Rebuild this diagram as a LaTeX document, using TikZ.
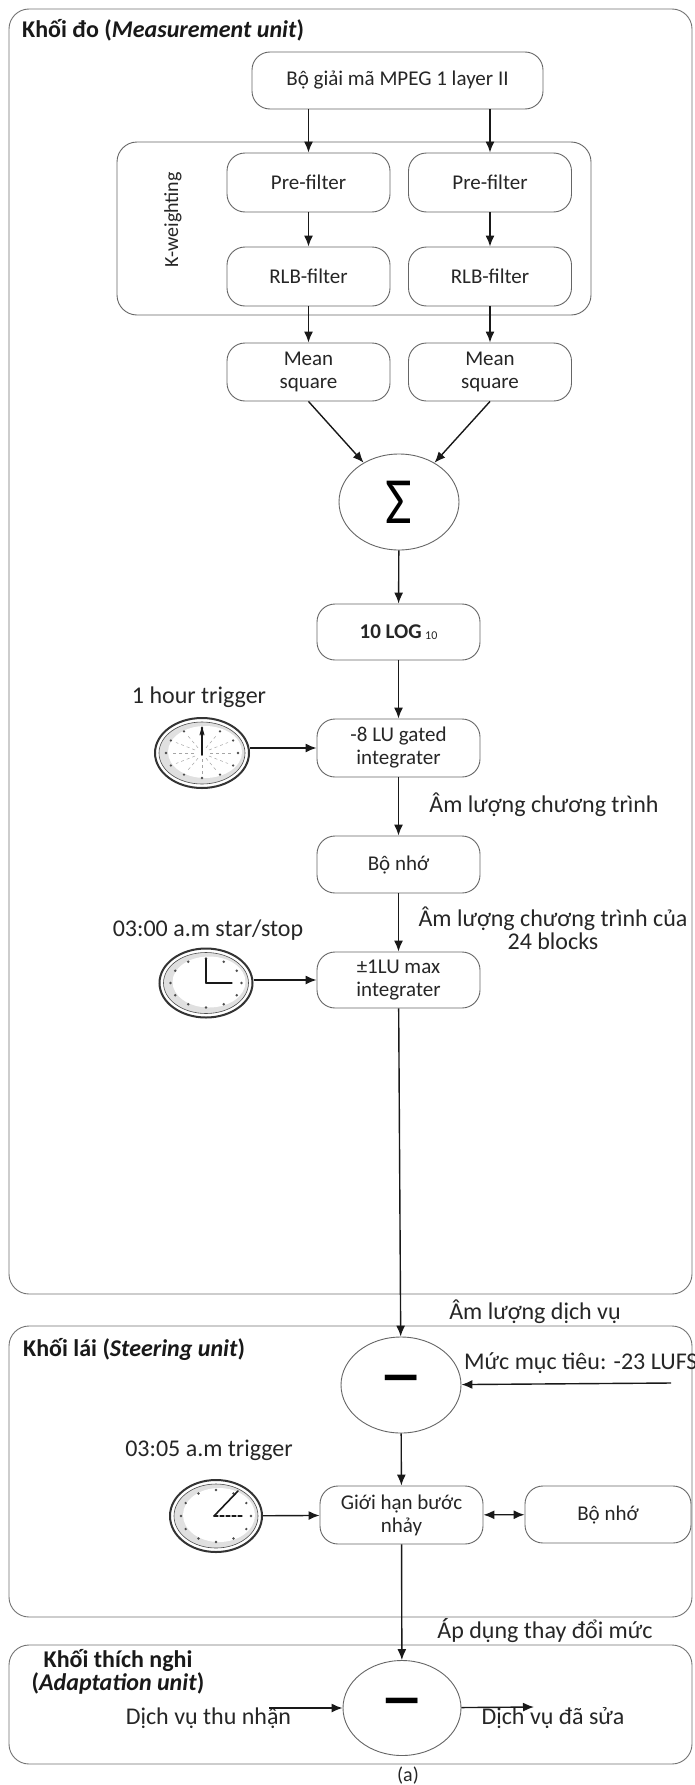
\documentclass[tikz,border=0pt]{standalone}
\usepackage{fontspec}
\setmainfont{Carlito}
\usetikzlibrary{arrows.meta,shapes.geometric}
\tikzset{
  box/.style={draw=black!60, line width=0.9pt, rounded corners=18pt, minimum width=163pt, minimum height=58pt, align=center, font=\fontsize{21}{23}\selectfont, text=black!85, inner sep=0pt},
  circ/.style={ellipse, draw=black!60, line width=0.9pt, minimum width=120pt, minimum height=96pt, inner sep=0pt},
  unit/.style={draw=black!55, line width=0.9pt, rounded corners=20pt},
  flow/.style={draw=black!90, line width=1.4pt, -{Latex[length=11pt,width=9pt]}},
  biflow/.style={draw=black!90, line width=1.4pt, {Latex[length=11pt,width=9pt]}-{Latex[length=11pt,width=9pt]}},
  lab/.style={font=\fontsize{24}{23}\selectfont, text=black!85, inner sep=0pt, align=center},
  ttl/.style={font=\fontsize{24}{23}\selectfont\bfseries, text=black!90, inner sep=0pt, anchor=west},
  clk/.style={ellipse, draw=black!80, line width=2pt, inner sep=0pt, fill=white},
  hand/.style={draw=black!90, line width=1.6pt, line cap=round},
  minus/.style={font=\fontsize{31}{31}\selectfont\bfseries},
}
\newcommand\clockface[4]{%
  \begin{scope}[shift={(#1.center)}]
    \fill[black!12] (0,0) ellipse ({#2-4} and {#3-4});
    \fill[white] (3,-1) ellipse ({#2-10} and {#3-9});
    \draw[black!70, line width=0.6pt] (0,0) ellipse ({#2-4} and {#3-4});
    \foreach \a in {0,30,...,330}{\fill[black!70] ({(#2-11)*cos(\a)},{(#3-10)*sin(\a)}) circle (1.3pt);}
    #4
  \end{scope}}
\begin{document}
\begin{tikzpicture}[x=1pt,y=-1pt]
\useasboundingbox (0,0) rectangle (695,1785);
\fill[white] (0,0) rectangle (695,1785);

% unit frames
\draw[unit] (9,9) rectangle (692,1294);
\draw[unit] (9,1326) rectangle (692,1617);
\draw[unit] (9,1645) rectangle (692,1764);
\draw[unit, draw=black!60] (117,142) rectangle (591,315);

% titles
\node[ttl] (t1) at (22,30) {Khối đo (\textit{Measurement unit})};
\node[ttl] (t2) at (23,1349) {Khối lái (\textit{Steering unit})};
\node[ttl, anchor=center, align=center] (t3) at (118,1671.5) {Khối thích nghi\\(\textit{Adaptation unit})};
\node[lab, rotate=90, font=\fontsize{20}{22}\selectfont] (kw) at (173,220) {K-weighting};

% blocks
\node[box, minimum width=291pt, minimum height=57pt] (mpeg) at (397.5,80.5) {Bộ giải mã MPEG 1 layer II};
\node[box, minimum height=59pt] (pre1) at (308.5,182.5) {Pre-filter};
\node[box, minimum height=59pt] (pre2) at (490,182.5) {Pre-filter};
\node[box, minimum height=59pt] (rlb1) at (308.5,276.5) {RLB-filter};
\node[box, minimum height=59pt] (rlb2) at (490,276.5) {RLB-filter};
\node[box] (ms1) at (308.5,372) {Mean\\square};
\node[box] (ms2) at (490,372) {Mean\\square};
\node[circ] (sum) at (399,502) {\fontsize{40}{40}\selectfont\scalebox{1.45}[1.65]{Σ}};
\node[box, minimum height=56pt] (log) at (398.5,632) {\textbf{10 LOG}\,\raisebox{-1pt}{\fontsize{12}{12}\selectfont 10}};
\node[box] (gate) at (398.5,748) {-8 LU gated\\integrater};
\node[box, minimum height=57pt] (mem1) at (398.5,864.5) {Bộ nhớ};
\node[box, minimum height=56pt] (maxi) at (398.5,980) {±1LU max\\integrater};
\node[circ, minus] (steer) at (401,1385) {\scalebox{1.4}[2]{—}};
\node[box] (lim) at (401.5,1515) {Giới hạn bước\\nhảy};
\node[box, minimum width=166pt, minimum height=57pt] (mem2) at (608,1514.5) {Bộ nhớ};
\node[circ, minus, minimum width=118pt, minimum height=95pt] (adapt) at (402,1708) {\scalebox{1.4}[2]{—}};

% clocks
\node[clk, minimum width=94pt, minimum height=70pt] (clk1) at (202,753) {};
\node[clk, minimum width=93pt, minimum height=69pt] (clk2) at (206,983) {};
\node[clk, minimum width=92pt, minimum height=72pt] (clk3) at (216,1516) {};
\clockface{clk1}{47}{35}{%
  \foreach \a in {0,30,...,330}{\draw[black!35, line width=0.5pt, dash pattern=on 3pt off 3pt] ({8*cos(\a)},{6*sin(\a)}) -- ({30*cos(\a)},{21*sin(\a)});}
  \draw[hand] (0,2) -- (0,-25);
  \draw[hand, line width=1pt] (-2,-18) -- (0,-25) -- (2,-18);}
\clockface{clk2}{46.5}{34.5}{%
  \draw[hand] (0,0) -- (0,-24);
  \draw[hand, line width=1.3pt] (0,0) -- (26,0);}
\clockface{clk3}{46}{36}{%
  \draw[hand] (-2,0) -- (22,-25);
  \draw[hand, line width=1.2pt, dash pattern=on 4pt off 2pt] (-2,0) -- (27,0);}

% labels
\node[lab] (l1) at (199,697) {1 hour trigger};
\node[lab] (l2) at (544,805) {Âm lượng chương trình};
\node[lab] (l3) at (553,928.5) {Âm lượng chương trình của\\24 blocks};
\node[lab] (l4) at (208,930) {03:00 a.m star/stop};
\node[lab] (l5) at (535,1312) {Âm lượng dịch vụ};
\node[lab, anchor=west] (l6) at (464,1363) {Mức mục tiêu: -23 LUFS};
\node[lab] (l7) at (209,1450) {03:05 a.m trigger};
\node[lab] (l8) at (545,1631) {Áp dụng thay đổi mức};
\node[lab] (l9) at (208.5,1718) {Dịch vụ thu nhận};
\node[lab] (l10) at (553,1718) {Dịch vụ đã sửa};
\node[lab, font=\fontsize{20}{22}\selectfont] (cap) at (408,1776) {(a)};

% free ends
\coordinate (tgt) at (671,1383);
\coordinate (in0) at (269,1708);
\coordinate (out1) at (534,1707);

% connectors
\draw[flow] (mpeg.south -| pre1.north) -- (pre1.north);
\draw[flow] (mpeg.south -| pre2.north) -- (pre2.north);
\draw[flow] (pre1) -- (rlb1);
\draw[flow] (pre2) -- (rlb2);
\draw[flow] (rlb1) -- (ms1);
\draw[flow] (rlb2) -- (ms2);
\draw[flow] (ms1.south) -- (sum);
\draw[flow] (ms2.south) -- (sum);
\draw[flow] (sum) -- (log);
\draw[flow] (log) -- (gate);
\draw[flow] (gate.west -| clk1.east) -- (gate.west);
\draw[flow] (gate) -- (mem1);
\draw[flow] (mem1) -- (maxi);
\draw[flow] (maxi.west -| clk2.east) -- (maxi.west);
\draw[flow] (maxi) -- (steer);
\draw[flow] (tgt) -- (steer);
\draw[flow] (steer) -- (lim);
\draw[flow] (clk3) -- (lim);
\draw[biflow] (lim) -- (mem2);
\draw[flow] (lim) -- (adapt);
\draw[flow] (in0) -- (adapt);
\draw[flow] (adapt) -- (out1);
\end{tikzpicture}
\end{document}
